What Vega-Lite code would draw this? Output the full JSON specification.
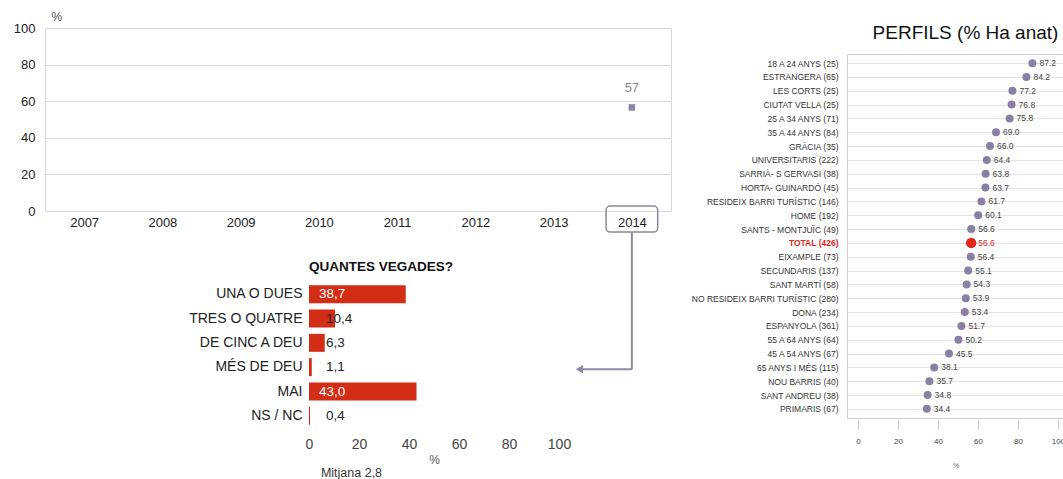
{
  "$schema": "https://vega.github.io/schema/vega-lite/v6.json",
  "padding": {"left": 12, "top": 9, "right": 0, "bottom": 0},
  "background": "white",
  "config": {"font": "Liberation Sans", "view": {"stroke": null}},
  "datasets": {
    "trend": [{"year": 2014, "pct": 56.6}],
    "vegades": [
      {"cat": "UNA O DUES", "pct": 38.7},
      {"cat": "TRES O QUATRE", "pct": 10.4},
      {"cat": "DE CINC A DEU", "pct": 6.3},
      {"cat": "MÉS DE DEU", "pct": 1.1},
      {"cat": "MAI", "pct": 43.0},
      {"cat": "NS / NC", "pct": 0.4}
    ],
    "perfils": [
      {"perfil": "18 A 24 ANYS (25)", "pct": 87.2},
      {"perfil": "ESTRANGERA (65)", "pct": 84.2},
      {"perfil": "LES CORTS (25)", "pct": 77.2},
      {"perfil": "CIUTAT VELLA (25)", "pct": 76.8},
      {"perfil": "25 A 34 ANYS (71)", "pct": 75.8},
      {"perfil": "35 A 44 ANYS (84)", "pct": 69.0},
      {"perfil": "GRÀCIA (35)", "pct": 66.0},
      {"perfil": "UNIVERSITARIS (222)", "pct": 64.4},
      {"perfil": "SARRIÀ- S GERVASI (38)", "pct": 63.8},
      {"perfil": "HORTA- GUINARDÓ (45)", "pct": 63.7},
      {"perfil": "RESIDEIX BARRI TURÍSTIC (146)", "pct": 61.7},
      {"perfil": "HOME (192)", "pct": 60.1},
      {"perfil": "SANTS - MONTJUÏC (49)", "pct": 56.6},
      {"perfil": "TOTAL (426)", "pct": 56.6},
      {"perfil": "EIXAMPLE (73)", "pct": 56.4},
      {"perfil": "SECUNDARIS (137)", "pct": 55.1},
      {"perfil": "SANT MARTÍ (58)", "pct": 54.3},
      {"perfil": "NO RESIDEIX BARRI TURÍSTIC (280)", "pct": 53.9},
      {"perfil": "DONA (234)", "pct": 53.4},
      {"perfil": "ESPANYOLA (361)", "pct": 51.7},
      {"perfil": "55 A 64 ANYS (64)", "pct": 50.2},
      {"perfil": "45 A 54 ANYS (67)", "pct": 45.5},
      {"perfil": "65 ANYS I MÉS (115)", "pct": 38.1},
      {"perfil": "NOU BARRIS (40)", "pct": 35.7},
      {"perfil": "SANT ANDREU (38)", "pct": 34.8},
      {"perfil": "PRIMARIS (67)", "pct": 34.4}
    ]
  },
  "bounds": "flush",
  "spacing": 802,
  "hconcat": [
    {
      "bounds": "flush",
      "spacing": 71,
      "vconcat": [
        {
          "width": 626,
          "height": 183,
          "view": {"stroke": "#d9d9d9"},
          "data": {"name": "trend"},
          "encoding": {
            "x": {
              "field": "year", "type": "quantitative",
              "scale": {"domain": [2006.5, 2014.5], "nice": false, "zero": false},
              "axis": {"values": [2007, 2008, 2009, 2010, 2011, 2012, 2013, 2014], "format": "d", "title": null, "grid": false, "ticks": false, "domain": false, "labelFlush": false, "labelFontSize": 13, "labelColor": "#222", "labelPadding": 5}
            },
            "y": {
              "field": "pct", "type": "quantitative",
              "scale": {"domain": [0, 100], "nice": false, "zero": false},
              "axis": {"values": [0, 20, 40, 60, 80, 100], "title": "%", "titleAngle": 0, "titleAlign": "left", "titleBaseline": "middle", "titleX": 6, "titleY": -12, "titleFontSize": 12, "titleFontWeight": "normal", "titleColor": "#555", "grid": true, "gridColor": "#dcdcdc", "ticks": false, "domain": false, "labelFontSize": 13, "labelColor": "#222", "labelPadding": 10}
            }
          },
          "layer": [
            {"mark": {"type": "point", "shape": "square", "filled": true, "size": 42, "color": "#8a83a3", "opacity": 1}},
            {"mark": {"type": "text", "dy": -19, "fontSize": 13, "color": "#8c879f"}, "encoding": {"text": {"field": "pct", "format": ".0f"}}},
            {"mark": {"type": "rect", "fill": "white", "fillOpacity": 0, "stroke": "#8b8a9c", "strokeWidth": 1.5, "cornerRadius": 4}, "encoding": {"x": {"datum": 2013.67}, "x2": {"datum": 2014.33}, "y": {"datum": 2.7}, "y2": {"datum": -11.5}}},
            {"mark": {"type": "rule", "color": "#8b8aa3", "strokeWidth": 2}, "encoding": {"x": {"datum": 2014}, "y": {"datum": -11.5}, "y2": {"datum": -86.5}}},
            {"mark": {"type": "rule", "color": "#8b8aa3", "strokeWidth": 2}, "encoding": {"x": {"datum": 2014}, "x2": {"datum": 2013.36}, "y": {"datum": -86.5}}},
            {"mark": {"type": "point", "shape": "triangle-left", "filled": true, "size": 70, "color": "#8b8aa3", "opacity": 1}, "encoding": {"x": {"datum": 2013.33}, "y": {"datum": -86.5}}}
          ]
        },
        {
          "bounds": "flush",
          "spacing": 263,
          "hconcat": [
            {"width": 1, "height": 146, "data": {"values": [{}]}, "mark": {"type": "point", "opacity": 0}, "encoding": {}},
            {
              "width": 250,
              "height": 146,
              "data": {"name": "vegades"},
              "title": {"text": "QUANTES VEGADES?", "anchor": "start", "frame": "group", "fontSize": 13.5, "fontWeight": "bold", "color": "#111", "offset": 9},
              "encoding": {
                "y": {"field": "cat", "type": "nominal", "sort": null, "scale": {"paddingInner": 0.26, "paddingOuter": 0.13}, "axis": {"title": null, "ticks": false, "domain": false, "labelFontSize": 14, "labelColor": "#222", "labelPadding": 7}}
              },
              "layer": [
                {
                  "mark": {"type": "bar", "color": "#d42d15"},
                  "encoding": {
                    "x": {"field": "pct", "type": "quantitative", "scale": {"domain": [0, 100], "nice": false}, "axis": {"values": [0, 20, 40, 60, 80, 100], "grid": false, "ticks": false, "domain": false, "labelFlush": false, "labelFontSize": 14, "labelColor": "#444", "labelPadding": 9, "title": "%", "titleFontSize": 12, "titleFontWeight": "normal", "titleColor": "#555", "titlePadding": 3}}
                  }
                },
                {
                  "transform": [{"filter": "datum.pct >= 20"}, {"calculate": "replace(format(datum.pct, '.1f'), '.', ',')", "as": "lbl"}],
                  "mark": {"type": "text", "align": "left", "dx": 10, "fontSize": 13.5, "color": "white"},
                  "encoding": {"x": {"datum": 0}, "text": {"field": "lbl"}}
                },
                {
                  "transform": [{"filter": "datum.pct < 20"}, {"calculate": "replace(format(datum.pct, '.1f'), '.', ',')", "as": "lbl"}],
                  "mark": {"type": "text", "align": "left", "dx": 17, "fontSize": 13.5, "color": "#222"},
                  "encoding": {"x": {"datum": 0}, "text": {"field": "lbl"}}
                },
                {
                  "transform": [{"filter": "datum.cat === 'NS / NC'"}],
                  "mark": {"type": "text", "text": "Mitjana 2,8", "dy": 57, "fontSize": 12.5, "color": "#333"},
                  "encoding": {"x": {"datum": 17}}
                }
              ]
            }
          ]
        }
      ]
    },
    {
      "bounds": "flush",
      "spacing": 25,
      "vconcat": [
        {"width": 217, "height": 1, "data": {"values": [{}]}, "mark": {"type": "point", "opacity": 0}, "encoding": {}},
        {
          "width": 217,
          "height": 364,
          "view": {"stroke": "#cfcfcf"},
          "data": {"name": "perfils"},
          "title": {"text": "PERFILS (% Ha anat)", "fontSize": 19, "fontWeight": "normal", "color": "#111", "anchor": "middle", "dx": 10, "offset": 11},
          "encoding": {
            "y": {
              "field": "perfil", "type": "nominal", "sort": null,
              "scale": {"type": "point", "padding": 0.66},
              "axis": {"title": null, "ticks": false, "domain": false, "grid": true, "gridColor": "#e4e4e4", "labelFontSize": 8.5, "labelColor": {"condition": {"test": "datum.value === 'TOTAL (426)'", "value": "#e2261b"}, "value": "#333"}, "labelFontWeight": {"condition": {"test": "datum.value === 'TOTAL (426)'", "value": "bold"}, "value": "normal"}, "labelPadding": 9}
            },
            "x": {
              "field": "pct", "type": "quantitative",
              "scale": {"domain": [-5.5, 103], "nice": false, "zero": false},
              "axis": {"values": [0, 20, 40, 60, 80, 100], "grid": false, "domain": false, "labelFlush": false, "tickSize": 10, "tickColor": "#c8c8c8", "offset": 1, "labelFontSize": 8, "labelColor": "#444", "labelPadding": 8, "title": "%", "titleFontSize": 7, "titleFontWeight": "normal", "titleColor": "#666", "titlePadding": 16}
            }
          },
          "layer": [
            {
              "mark": {"type": "point", "filled": true, "opacity": 1},
              "encoding": {
                "color": {"condition": {"test": "datum.perfil === 'TOTAL (426)'", "value": "#e2261b"}, "value": "#8a80a6"},
                "size": {"condition": {"test": "datum.perfil === 'TOTAL (426)'", "value": 110}, "value": 64}
              }
            },
            {
              "mark": {"type": "text", "align": "left", "dx": 7, "fontSize": 8.5},
              "encoding": {
                "text": {"field": "pct", "format": ".1f"},
                "color": {"condition": {"test": "datum.perfil === 'TOTAL (426)'", "value": "#e2261b"}, "value": "#444"}
              }
            }
          ]
        }
      ]
    }
  ]
}
